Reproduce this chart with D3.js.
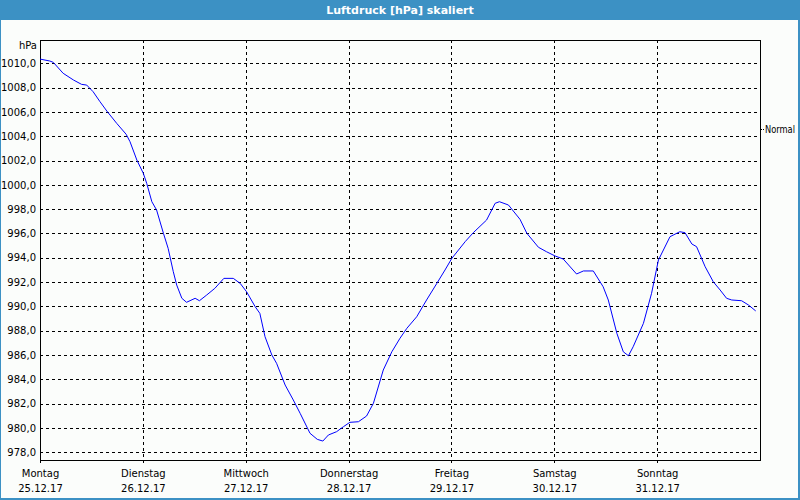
<!DOCTYPE html>
<html><head><meta charset="utf-8">
<script src="https://cdn.jsdelivr.net/npm/d3@7"></script>
<style>
body{margin:0;padding:0;background:#fff;}
svg{display:block;}
text{font-family:"DejaVu Sans",sans-serif;}
</style></head>
<body>
<svg id="chart" width="800" height="500"></svg>
<script>
const title = "Luftdruck [hPa] skaliert";
const unitLabel = "hPa";
const dayNames = ["Montag","Dienstag","Mittwoch","Donnerstag","Freitag","Samstag","Sonntag"];
const dayDates = ["25.12.17","26.12.17","27.12.17","28.12.17","29.12.17","30.12.17","31.12.17"];
const yTicks = [978,980,982,984,986,988,990,992,994,996,998,1000,1002,1004,1006,1008,1010];
const normalLabel = "Normal";
const normalValue = 1004.6;
// hours since Montag 00:00
const hours = [0,2.3,3.1,5.4,7.8,9.7,10.9,12.4,14.0,15.6,17.9,20.1,21.0,22.6,24.1,24.9,26.1,27.2,28.8,29.9,31.1,31.9,33.1,34.2,36.2,37.2,38.9,40.8,42.9,45.1,46.7,
48.2,50.2,51.3,52.5,54.1,55.2,57.2,59.1,60.7,63.0,64.7,66.0,67.3,69.2,70.8,72.3,74.3,76.2,77.8,80.1,82.1,84.0,85.6,87.9,90.2,92.6,94.5,
96.1,99.2,101.1,104.2,106.2,107.2,109.3,112.0,113.6,116.3,118.2,120.2,122.1,125.2,126.8,129.1,131.4,132.6,134.6,136.1,137.3,
138.4,140.8,142.7,144.3,147.0,149.3,150.5,152.1,153.2,155.2,157.1,158.7,160.2,161.4,163.7,165.3,167.0];
const pressure = [1010.35,1010.19,1010.08,1009.18,1008.63,1008.27,1008.21,1007.66,1006.84,1006.07,1005.06,1004.16,1003.55,1002.04,1000.95,1000.12,998.61,997.93,996.01,994.77,992.85,991.75,990.66,990.33,990.66,990.46,990.93,991.48,992.30,992.30,991.89,
991.20,989.97,989.42,987.50,985.99,985.31,983.52,982.29,981.19,979.55,979.05,978.91,979.41,979.68,980.09,980.45,980.50,980.97,982.02,984.76,986.26,987.37,988.19,989.14,990.52,991.89,992.99,
993.95,995.32,996.06,997.10,998.48,998.61,998.34,997.16,996.01,994.86,994.49,994.14,993.89,992.66,992.91,992.91,991.61,990.52,987.78,986.26,985.93,
986.67,988.60,991.07,993.81,995.73,996.14,996.06,995.13,994.91,993.26,992.02,991.34,990.66,990.52,990.46,990.11,989.62];

const svg = d3.select("#chart");
const W = 800, H = 500;
const m = {left:40, right:760, top:40, bottom:460};

// background & frame
svg.append("rect").attr("x",0).attr("y",0).attr("width",W).attr("height",H).attr("fill","#3c91c4");
svg.append("rect").attr("x",1).attr("y",20).attr("width",W-3).attr("height",H-22).attr("fill","#fbfdfb");
svg.append("text").attr("x",W/2).attr("y",14).attr("text-anchor","middle")
  .attr("fill","#fff").attr("font-weight","bold").attr("font-size","11px").text(title);

const x = d3.scaleLinear().domain([0,168]).range([m.left,m.right]);
const y = d3.scaleLinear().domain([977.35,1011.92]).range([m.bottom,m.top]);

// horizontal grid + y labels
const yAxis = d3.axisLeft(y).tickValues(yTicks)
  .tickFormat(d => d.toFixed(1).replace(".",","))
  .tickSizeInner(-(m.right-m.left)).tickSizeOuter(0).tickPadding(4);
const gy = svg.append("g").attr("transform",`translate(${m.left},0)`).call(yAxis);
gy.select(".domain").remove();
gy.selectAll(".tick line").attr("stroke","#000").attr("stroke-dasharray","3,3").attr("shape-rendering","crispEdges");
gy.selectAll(".tick text").attr("font-size","10px").attr("fill","#000").attr("font-family","DejaVu Sans, sans-serif");

// vertical grid + x labels
const dayTicks = d3.range(0,7).map(i=>i*24);
const xAxis = d3.axisBottom(x).tickValues(dayTicks).tickFormat("")
  .tickSizeInner(0).tickSizeOuter(0);
const gx = svg.append("g").attr("transform",`translate(0,${m.bottom})`).call(xAxis);
gx.select(".domain").remove();
gx.selectAll(".tick line").attr("y1",-(m.bottom-m.top)).attr("y2",3)
  .attr("stroke","#000").attr("stroke-dasharray",(d,i)=> i===0 ? null : "3,3").attr("shape-rendering","crispEdges");
gx.selectAll(".tick").each(function(d,i){
  const g = d3.select(this);
  g.append("text").attr("y",17).attr("text-anchor","middle").attr("font-size","10px").attr("fill","#000").text(dayNames[i]);
  g.append("text").attr("y",32).attr("text-anchor","middle").attr("font-size","10px").attr("fill","#000").text(dayDates[i]);
});

// plot frame
svg.append("rect").attr("x",m.left).attr("y",m.top).attr("width",m.right-m.left).attr("height",m.bottom-m.top)
  .attr("fill","none").attr("stroke","#000").attr("shape-rendering","crispEdges");

// unit label
svg.append("text").attr("x",37).attr("y",49).attr("text-anchor","end").attr("font-size","10px").attr("fill","#000").text(unitLabel);

// normal marker
svg.append("line").attr("x1",m.right).attr("x2",m.right+4).attr("y1",Math.round(y(normalValue))+0.5).attr("y2",Math.round(y(normalValue))+0.5)
  .attr("stroke","#000").attr("stroke-dasharray","2,1");
svg.append("text").attr("x",m.right+5).attr("y",y(normalValue)+4).attr("font-size","10px").attr("fill","#000")
  .attr("textLength",30).attr("lengthAdjust","spacingAndGlyphs").text(normalLabel);

// line
const data = hours.map((h,i)=>({h, v:pressure[i]}));
svg.append("path").datum(data)
  .attr("d", d3.line().x(d=>x(d.h)).y(d=>y(d.v)))
  .attr("fill","none").attr("stroke","#0000ff").attr("stroke-width",1);
</script>
</body></html>
